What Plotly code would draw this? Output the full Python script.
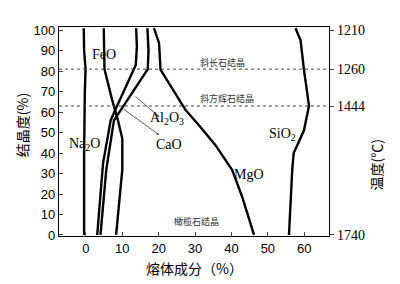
import plotly.graph_objects as go

# ---- data ----
na2o_x = [-0.6, -0.5, -0.1, -0.3, -0.5, -0.5]
na2o_y = [101, 90, 81, 70, 40, 0]

feo_x = [4.9, 5.0, 5.1, 7.2, 8.8, 10.0, 10.0, 8.3]
feo_y = [101, 90, 81, 66, 56, 47, 32, 0]

cao_x = [13.8, 14.0, 13.7, 10.5, 8.3, 6.8, 4.7, 3.1]
cao_y = [101, 92, 83, 71, 62, 56, 35, 0]

al2o3_x = [16.9, 17.2, 17.0, 7.7, 5.6, 4.0]
al2o3_y = [101, 90, 81, 56, 32, 0]

mgo_x = [18.7, 20.1, 20.5, 24.6, 27.4, 31.0, 35.6, 40.2, 42.9, 46.2]
mgo_y = [101, 93.7, 80.8, 69.2, 61.0, 53.7, 43.9, 31.7, 18.8, 0]

sio2_x = [57.6, 59.0, 59.9, 61.3, 59.9, 57.1, 56.7, 55.8]
sio2_y = [101, 95, 81, 63, 51, 40, 32, 0]

x_ticks = [0, 10, 20, 30, 40, 50, 60]
y_ticks = [0, 10, 20, 30, 40, 50, 60, 70, 80, 90, 100]
temp_pos = [100, 81, 63, 0]
temp_labels = ["1210", "1260", "1444", "1740"]
phase_levels = [81, 63]

X_RANGE = [-7.4, 66.8]
Y_RANGE = [-0.5, 101.6]

fig = go.Figure()
for xs, ys in [(na2o_x, na2o_y), (feo_x, feo_y), (cao_x, cao_y),
               (al2o3_x, al2o3_y), (mgo_x, mgo_y), (sio2_x, sio2_y)]:
    fig.add_trace(go.Scatter(x=xs, y=ys, mode="lines",
                             line=dict(color="black", width=2.4),
                             showlegend=False, hoverinfo="skip"))

for lv in phase_levels:
    fig.add_trace(go.Scatter(x=X_RANGE, y=[lv, lv], mode="lines",
                             line=dict(color="#444", width=1, dash="dot"),
                             showlegend=False, hoverinfo="skip"))

# invisible trace for the right axis
fig.add_trace(go.Scatter(x=[None], y=[None], yaxis="y2", showlegend=False))

serif = "Liberation Serif"
cjk = "Noto Sans CJK SC"
labels = [
    ("FeO", 4.9, 88),
    ("Al<sub>2</sub>O<sub>3</sub>", 22.3, 57),
    ("CaO", 22.8, 44),
    ("Na<sub>2</sub>O", -0.5, 44),
    ("MgO", 44.8, 29.4),
    ("SiO<sub>2</sub>", 53.9, 49),
]
ann = []
for t, x, y in labels:
    ann.append(dict(x=x, y=y, text=t, showarrow=False, xanchor="center", yanchor="middle",
                    font=dict(family=serif, size=14, color="black")))

phase = [("斜长石结晶", 37.5, 84.5), ("斜方辉石结晶", 38.8, 66.5), ("橄榄石结晶", 30.4, 6.6)]
for t, x, y in phase:
    ann.append(dict(x=x, y=y, text=t, showarrow=False, xanchor="center", yanchor="middle",
                    font=dict(family=cjk, size=9, color="#333")))

# arrows
ann.append(dict(x=20.1, y=57.8, ax=13.2, ay=68.3, axref="x", ayref="y",
                showarrow=True, arrowhead=2, arrowsize=0.6, arrowwidth=0.8,
                arrowcolor="#333", text=""))
ann.append(dict(x=20.1, y=48.9, ax=10.0, ay=61.9, axref="x", ayref="y",
                showarrow=True, arrowhead=2, arrowsize=0.6, arrowwidth=0.8,
                arrowcolor="#333", text=""))

# axis titles
ann.append(dict(xref="paper", yref="paper", x=-0.137, y=0.53, text="结晶度(%)",
                xanchor="center", yanchor="middle",
                textangle=-90, showarrow=False, font=dict(family=cjk, size=14, color="black")))
ann.append(dict(xref="paper", yref="paper", x=0.5, y=-0.151, text="熔体成分（%）",
                xanchor="center", yanchor="middle",
                showarrow=False, font=dict(family=cjk, size=14, color="black")))
ann.append(dict(xref="paper", yref="paper", x=1.172, y=0.34, text="温度(℃)",
                xanchor="center", yanchor="middle",
                textangle=-90, showarrow=False, font=dict(family=cjk, size=14, color="black")))

fig.update_layout(
    width=400, height=284,
    margin=dict(l=51, r=78.5, t=18.7, b=55.7),
    paper_bgcolor="white", plot_bgcolor="white",
    annotations=ann,
    xaxis=dict(range=X_RANGE, tickvals=x_ticks, ticks="inside", ticklen=4,
               showline=True, linecolor="black", linewidth=1.2, mirror=True,
               showgrid=False, zeroline=False,
               tickfont=dict(family="Liberation Sans", size=13, color="black")),
    yaxis=dict(range=Y_RANGE, tickvals=y_ticks, ticks="inside", ticklen=4,
               showline=True, linecolor="black", linewidth=1.2,
               showgrid=False, zeroline=False,
               tickfont=dict(family="Liberation Sans", size=13, color="black")),
    yaxis2=dict(range=Y_RANGE, overlaying="y", side="right",
                tickvals=temp_pos, ticktext=temp_labels, ticks="outside", ticklen=4,
                showline=True, linecolor="black", linewidth=1.2,
                showgrid=False, zeroline=False,
                tickfont=dict(family=serif, size=14, color="black")),
)

fig.write_html("out.html")
